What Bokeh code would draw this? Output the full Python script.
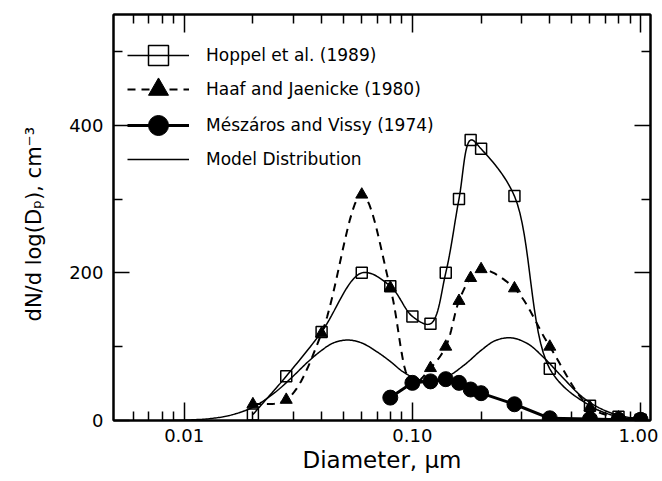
import numpy as np
from bokeh.plotting import figure
from bokeh.models import (LogAxis, LinearAxis, FixedTicker, CustomJSTickFormatter,
                          Legend, LegendItem, Range1d)
from bokeh.embed import file_html
from bokeh.resources import INLINE

# ---------------- data ----------------
hoppel_d = [0.02, 0.028, 0.04, 0.06, 0.08, 0.10, 0.12, 0.14, 0.16, 0.18, 0.20, 0.28, 0.40, 0.60, 0.80, 1.00]
hoppel_n = [8, 60, 120, 200, 182, 141, 131, 200, 300, 380, 368, 304, 70, 20, 5, 1]

haaf_d = [0.02, 0.028, 0.04, 0.06, 0.08, 0.10, 0.12, 0.14, 0.16, 0.18, 0.20, 0.28, 0.40, 0.60, 0.80, 1.00]
haaf_n = [22, 28, 118, 306, 180, 50, 71, 100, 162, 193, 205, 179, 100, 18, 4, 1]

mesz_d = [0.08, 0.10, 0.12, 0.14, 0.16, 0.18, 0.20, 0.28, 0.40, 0.60, 0.80, 1.00]
mesz_n = [31, 51, 53, 56, 51, 42, 37, 22, 3, 2, 1, 1]

model_d = [0.008, 0.01, 0.013, 0.016, 0.02, 0.025, 0.03, 0.035, 0.04, 0.045, 0.052, 0.06,
           0.07, 0.08, 0.09, 0.10, 0.12, 0.14, 0.17, 0.20, 0.23, 0.27, 0.32, 0.38, 0.45,
           0.55, 0.65, 0.80, 1.00]
model_n = [0, 0.5, 2.6, 7.3, 18, 38, 60, 80, 95, 105, 109, 105, 93, 80, 67, 59, 52, 58,
           76, 95, 108, 112, 104, 84, 60, 33, 18, 7, 2]

series_names = ["Hoppel et al. (1989)", "Haaf and Jaenicke (1980)",
                "Mészáros and Vissy (1974)", "Model Distribution"]

x_ticks = [0.01, 0.1, 1.0]
x_tick_labels = ["0.01", "0.10", "1.00"]
x_minor = [0.006, 0.007, 0.008, 0.009,
           0.02, 0.03, 0.04, 0.05, 0.06, 0.07, 0.08, 0.09,
           0.2, 0.3, 0.4, 0.5, 0.6, 0.7, 0.8, 0.9]
y_ticks = [0, 200, 400]
y_minor = [100, 300, 500]

x_title = "Diameter, μm"
y_title = "dN/d  log(Dₚ),  cm⁻³"

FONT = "DejaVu Sans"
W, H = 658, 476


def smooth(xs, ys, n=16):
    """Centripetal Catmull-Rom curve through the data points (log-x space),
    used only to draw a smooth line through the read values."""
    sx, sy = 229.0, 0.7375
    P = np.column_stack([np.log10(xs) * sx, np.asarray(ys, float) * sy])
    P = np.vstack([2 * P[0] - P[1], P, 2 * P[-1] - P[-2]])
    out = []
    for i in range(1, len(P) - 2):
        p0, p1, p2, p3 = P[i - 1], P[i], P[i + 1], P[i + 2]
        def nxt(ti, a, b):
            return ti + max(np.linalg.norm(b - a), 1e-6) ** 0.5
        t0 = 0.0
        t1 = nxt(t0, p0, p1)
        t2 = nxt(t1, p1, p2)
        t3 = nxt(t2, p2, p3)
        t = np.linspace(t1, t2, n, endpoint=False)[:, None]
        A1 = (t1 - t) / (t1 - t0) * p0 + (t - t0) / (t1 - t0) * p1
        A2 = (t2 - t) / (t2 - t1) * p1 + (t - t1) / (t2 - t1) * p2
        A3 = (t3 - t) / (t3 - t2) * p2 + (t - t2) / (t3 - t2) * p3
        B1 = (t2 - t) / (t2 - t0) * A1 + (t - t0) / (t2 - t0) * A2
        B2 = (t3 - t) / (t3 - t1) * A2 + (t - t1) / (t3 - t1) * A3
        C = (t2 - t) / (t2 - t1) * B1 + (t - t1) / (t2 - t1) * B2
        out.append(C)
    out.append(P[-2][None, :])
    arr = np.vstack(out)
    return 10 ** (arr[:, 0] / sx), arr[:, 1] / sy


p = figure(width=W, height=H, x_axis_type="log",
           x_range=Range1d(0.0049, 1.105), y_range=Range1d(0, 550),
           output_backend="svg", toolbar_location=None,
           min_border_left=113, min_border_right=8, min_border_top=14, min_border_bottom=56)
p.xgrid.visible = False
p.ygrid.visible = False
p.outline_line_color = "black"
p.outline_line_width = 2
p.background_fill_color = "white"
p.border_fill_color = "white"

# ---------------- curves ----------------
mx, my = smooth(model_d, model_n)
r_model = p.line(mx, my, line_color="black", line_width=1.5)

hx, hy = smooth(hoppel_d, hoppel_n)
r_hline = p.line(hx, hy, line_color="black", line_width=1.5)

fx, fy = smooth(haaf_d, haaf_n)
r_fline = p.line(fx, fy, line_color="black", line_width=2, line_dash="8 6")

r_mline = p.line(mesz_d, mesz_n, line_color="black", line_width=3)
r_mpts = p.scatter(mesz_d, mesz_n, marker="circle", size=15, fill_color="black", line_color="black")

r_fpts = p.scatter(haaf_d, haaf_n, marker="triangle", size=12, fill_color="black", line_color="black")
r_hpts = p.scatter(hoppel_d, hoppel_n, marker="square", size=11, fill_color=None,
                   line_color="black", line_width=1.5)

# ---------------- axes ----------------
fmt_code = "const i = tv.indexOf(tick); return i >= 0 ? tl[i] : '';"
xb = p.xaxis[0]
xb.ticker = FixedTicker(ticks=x_ticks, minor_ticks=x_minor)
xb.formatter = CustomJSTickFormatter(args=dict(tv=x_ticks, tl=x_tick_labels), code=fmt_code)
xb.axis_label = x_title

yl = p.yaxis[0]
yl.ticker = FixedTicker(ticks=y_ticks, minor_ticks=y_minor)
yl.axis_label = y_title

blank = "return '';"
xt = LogAxis(ticker=FixedTicker(ticks=x_ticks, minor_ticks=x_minor),
             formatter=CustomJSTickFormatter(code=blank), major_label_standoff=0)
yr = LinearAxis(ticker=FixedTicker(ticks=y_ticks, minor_ticks=y_minor),
                formatter=CustomJSTickFormatter(code=blank), major_label_standoff=0)
p.add_layout(xt, "above")
p.add_layout(yr, "right")

for ax in (xb, xt):
    ax.major_tick_in = 18
    ax.major_tick_out = 0
    ax.minor_tick_in = 9
    ax.minor_tick_out = 0
for ax in (yl, yr):
    ax.major_tick_in = 16
    ax.major_tick_out = 0
    ax.minor_tick_in = 9
    ax.minor_tick_out = 0
for ax in (xb, xt, yl, yr):
    ax.axis_line_width = 2
    ax.axis_line_color = "black"
    ax.major_tick_line_width = 1.5
    ax.minor_tick_line_width = 1.5
    ax.major_tick_line_color = "black"
    ax.minor_tick_line_color = "black"
for ax in (xb, yl):
    ax.major_label_text_font = FONT
    ax.major_label_text_font_size = "18px"
    ax.major_label_text_color = "black"
    ax.axis_label_text_font = FONT
    ax.axis_label_text_font_style = "normal"
    ax.axis_label_text_color = "black"
xb.major_label_standoff = 8
yl.major_label_standoff = 10
xb.axis_label_text_font_size = "23px"
xb.axis_label_standoff = 2
yl.axis_label_text_font_size = "21px"
yl.axis_label_standoff = 20

# ---------------- legend (two interleaved legends -> 35px row pitch) ----------------
leg_style = dict(margin=0, padding=5, glyph_width=62, glyph_height=50, label_height=50,
                 spacing=20, label_standoff=17, label_text_font=FONT,
                 label_text_font_size="17px", label_text_color="black",
                 border_line_color=None, background_fill_alpha=0)
leg_a = Legend(items=[LegendItem(label=series_names[0], renderers=[r_hline, r_hpts]),
                      LegendItem(label=series_names[2], renderers=[r_mline, r_mpts])],
               location=(14, 270), **leg_style)
leg_b = Legend(items=[LegendItem(label=series_names[1], renderers=[r_fline, r_fpts]),
                      LegendItem(label=series_names[3], renderers=[r_model])],
               location=(14, 236), **leg_style)
p.add_layout(leg_a)
p.add_layout(leg_b)

open("out.html", "w").write(file_html(p, INLINE))
